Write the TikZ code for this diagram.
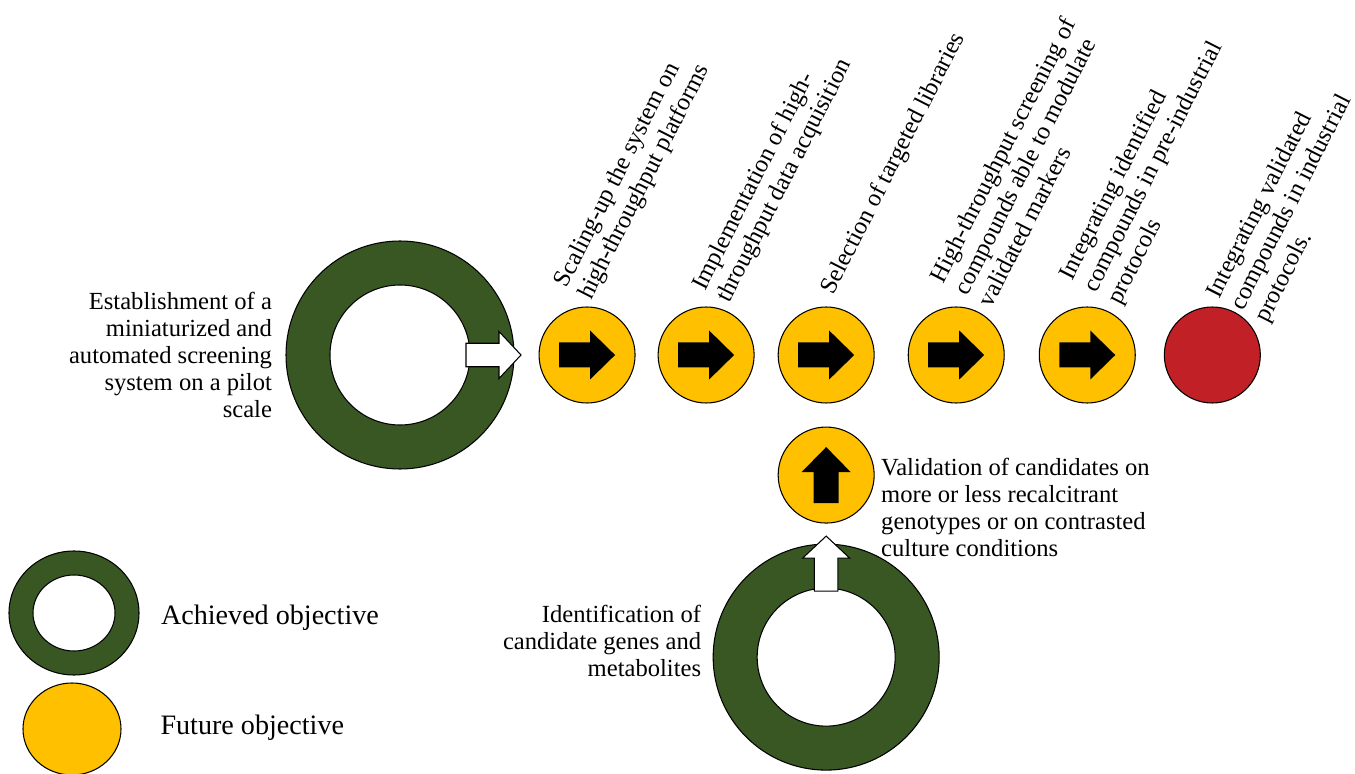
\documentclass[tikz,border=0pt]{standalone}
\usepackage{fontspec}
\setmainfont{Liberation Serif}
\usetikzlibrary{positioning, shapes.geometric}
\definecolor{achgreen}{RGB}{56,87,35}
\definecolor{futyellow}{RGB}{255,192,0}
\definecolor{goalred}{RGB}{193,32,38}
\tikzset{
  ringout/.style={circle, draw=black, fill=achgreen, minimum size=4.56cm,
                  inner sep=0pt},
  ringin/.style={circle, draw=black, fill=white, minimum size=2.8cm,
                 inner sep=0pt},
  future/.style={circle, draw=black, fill=futyellow, minimum size=1.92cm,
                 inner sep=0pt},
  goal/.style={future, fill=goalred},
  lbl/.style={inner sep=0pt, font=\fontsize{14}{15.4}\selectfont},
  steplbl/.style={lbl, rotate=63, anchor=south west, align=left},
  legtxt/.style={inner sep=0pt, font=\fontsize{16}{19}\selectfont},
  blk arrow/.pic={\fill[black] (-0.56,-0.25) -- (0.06,-0.25) -- (0.06,-0.49)
                  -- (0.56,0) -- (0.06,0.49) -- (0.06,0.25) -- (-0.56,0.25) -- cycle;},
  wht arrow/.pic={\draw[fill=white] (1.32,-0.235) -- (1.98,-0.235) -- (1.98,-0.47)
                  -- (2.42,0) -- (1.98,0.47) -- (1.98,0.235) -- (1.32,0.235) -- cycle;},
}

\begin{document}
\begin{tikzpicture}[line width=0.6pt]
  \useasboundingbox (0,0) rectangle (27.1,-15.48);

  % main line
  \node[ringout] (pilot) at (8.0,-7.1) {};
  \node[ringin] (pilotin) at (pilot) {};
  \pic at (pilot) {wht arrow};
  \node[future, right=0.48cm of pilot] (s1) {};
  \node[future, right=0.44cm of s1] (s2) {};
  \node[future, right=0.46cm of s2] (s3) {};
  \node[future, right=0.66cm of s3] (s4) {};
  \node[future, right=0.68cm of s4] (s5) {};
  \node[goal, right=0.56cm of s5] (ind) {};
  \foreach \n in {s1,s2,s3,s4,s5} \pic at (\n) {blk arrow};

  % branch from below
  \node[future, below=0.46cm of s3] (val) {};
  \pic[rotate=90] at (val) {blk arrow};
  \node[ringout, minimum size=4.52cm, below=0.4cm of val] (cand) {};
  \node[ringin, minimum size=2.76cm] (candin) at (cand) {};
  \pic[rotate=90] at (cand) {wht arrow};

  % labels
  \node[lbl, align=right, left=0.26cm of pilot] (pilottxt)
    {Establishment of a\\miniaturized and\\automated screening\\system on a pilot\\scale};
  \node[steplbl] (s1txt) at ([xshift=0.18cm, yshift=0.05cm]s1.north)
    {Scaling-up the system on\\high-throughput platforms};
  \node[steplbl] (s2txt) at ([xshift=0.56cm, yshift=-0.01cm]s2.north)
    {Implementation of high-\\throughput data acquisition};
  \node[steplbl] (s3txt) at ([xshift=0.24cm, yshift=0.15cm]s3.north)
    {Selection of targeted libraries};
  \node[steplbl] (s4txt) at ([xshift=0.72cm, yshift=-0.06cm]s4.north)
    {High-throughput screening of\\compounds able to modulate\\validated markers};
  \node[steplbl] (s5txt) at ([xshift=0.76cm, yshift=-0.05cm]s5.north)
    {Integrating identified\\compounds in pre-industrial\\protocols};
  \node[steplbl] (indtxt) at ([xshift=1.2cm, yshift=-0.41cm]ind.north)
    {Integrating validated\\compounds in industrial\\protocols.};
  \node[lbl, align=left, anchor=west] (valtxt) at ([xshift=0.12cm, yshift=-0.64cm]val.east)
    {Validation of candidates on\\more or less recalcitrant\\genotypes or on contrasted\\culture conditions};
  \node[lbl, align=right, anchor=east] (candtxt) at ([xshift=-0.22cm, yshift=0.32cm]cand.west)
    {Identification of\\candidate genes and\\metabolites};

  % legend
  \node[ellipse, draw, fill=achgreen, minimum width=2.6cm, minimum height=2.48cm,
        inner sep=0pt] (legach) at (1.48,-12.26) {};
  \node[ellipse, draw, fill=white, minimum width=1.64cm, minimum height=1.52cm,
        inner sep=0pt] (legachin) at (legach) {};
  \node[ellipse, draw, fill=futyellow, minimum width=1.96cm, minimum height=1.84cm,
        inner sep=0pt] (legfut) at (1.44,-14.58) {};
  \node[legtxt, right=0.42cm of legach, yshift=-0.09cm] (legachtxt) {Achieved objective};
  \node[legtxt, anchor=west] (legfuttxt) at (3.2,-14.55) {Future objective};
\end{tikzpicture}
\end{document}
